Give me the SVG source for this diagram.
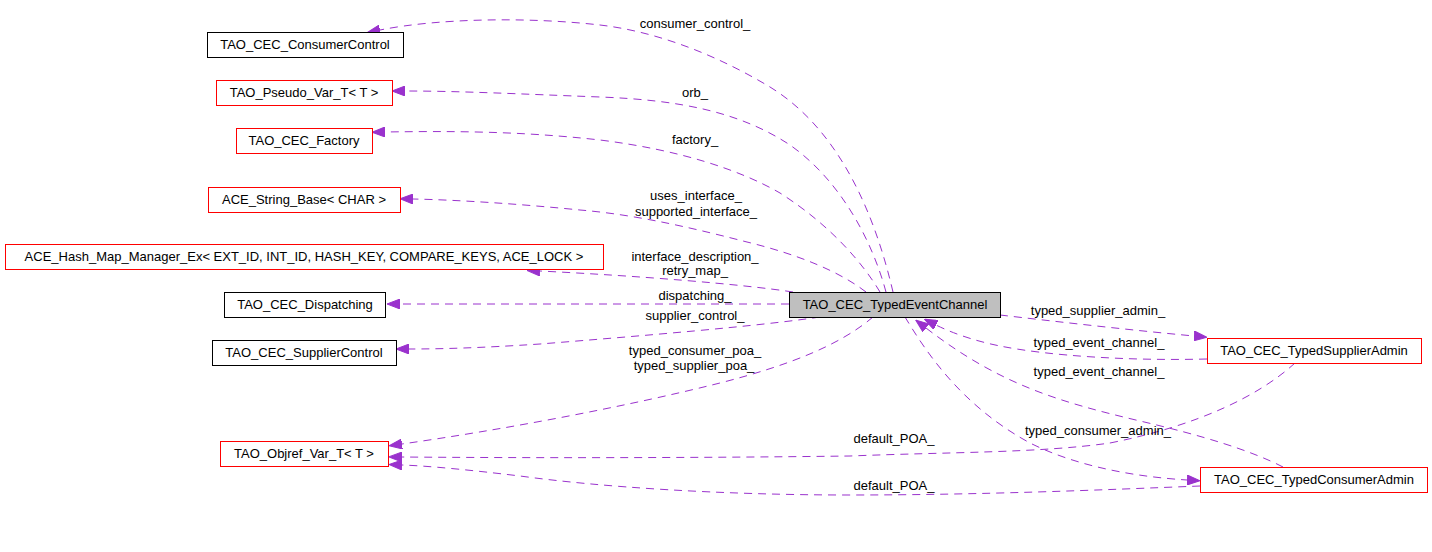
<svg xmlns="http://www.w3.org/2000/svg" width="1432" height="552" viewBox="0 0 1432 552">
<style>
.nb{fill:#ffffff;stroke:#000000;stroke-width:1}
.nr{fill:#ffffff;stroke:#ff0000;stroke-width:1}
.nm{fill:#bfbfbf;stroke:#000000;stroke-width:1}
text{font-family:"Liberation Sans",Arial,sans-serif;font-size:13px;fill:#000000;text-anchor:middle}
.e{fill:none;stroke:#9a32cd;stroke-width:1;stroke-dasharray:8,6}
</style>
<defs>
<marker id="ah" markerUnits="userSpaceOnUse" markerWidth="13" markerHeight="10" viewBox="0 0 13 10" refX="0" refY="5" orient="auto">
<path d="M0,0 L13,5 L0,10 z" fill="#9a32cd" stroke="#9a32cd" stroke-width="1"/>
</marker>
</defs>
<rect x="0" y="0" width="1432" height="552" fill="#ffffff"/>
<g id="connectors">
<path class="e" marker-end="url(#ah)" d="M893,292 C875,215 840,130 770,87 C720,57 660,32 600,25 C530,17 440,18 380,30"/>
<path class="e" marker-end="url(#ah)" d="M886,292 C872,240 840,180 790,145 C740,112 680,100 600,97 C520,94 460,91 405,91"/>
<path class="e" marker-end="url(#ah)" d="M880,292 C862,262 830,225 780,193 C740,170 680,150 600,140 C520,131 450,131 385,132"/>
<path class="e" marker-end="url(#ah)" d="M866,292 C840,272 800,255 747,242 C700,230 640,215 580,210 C520,204 460,200 413,199"/>
<path class="e" marker-end="url(#ah)" d="M793,292 C740,284 640,276 540,271"/>
<path class="e" marker-end="url(#ah)" d="M789,304 L400,304"/>
<path class="e" marker-end="url(#ah)" d="M820,317 C760,326 640,336 540,344 C480,348 440,349 409,349"/>
<path class="e" marker-end="url(#ah)" d="M873,317 C840,345 790,365 720,383 C620,408 500,430 402,444"/>
<path class="e" marker-end="url(#ah)" d="M1295,363 C1260,395 1200,425 1110,443 C1040,453 950,452 850,456 C700,458 520,458 402,457"/>
<path class="e" marker-end="url(#ah)" d="M1200,486 C1100,490 980,495 850,495 C720,495 600,487 520,476 C470,470 430,466 402,465"/>
<path class="e" marker-end="url(#ah)" d="M1000,315 C1060,322 1130,330 1194,336"/>
<path class="e" marker-end="url(#ah)" d="M1207,359 C1130,361 1050,356 1000,346 C970,340 948,331 936,325"/>
<path class="e" marker-end="url(#ah)" d="M1283,467 C1250,450 1200,435 1140,421 C1060,402 1000,385 926,328"/>
<path class="e" marker-end="url(#ah)" d="M905,317 C925,350 960,405 1030,443 C1080,468 1140,477 1187,480"/>
<text x="695" y="28">consumer_control_</text>
<text x="695" y="97">orb_</text>
<text x="695" y="144">factory_</text>
<text x="696" y="200">uses_interface_</text>
<text x="696" y="216">supported_interface_</text>
<text x="695" y="261">interface_description_</text>
<text x="695" y="275">retry_map_</text>
<text x="695" y="300">dispatching_</text>
<text x="695" y="320">supplier_control_</text>
<text x="695" y="355">typed_consumer_poa_</text>
<text x="694" y="370">typed_supplier_poa_</text>
<text x="1098" y="315">typed_supplier_admin_</text>
<text x="1099" y="347">typed_event_channel_</text>
<text x="1099" y="376">typed_event_channel_</text>
<text x="1098" y="435">typed_consumer_admin_</text>
<text x="894" y="443">default_POA_</text>
<text x="894" y="490">default_POA_</text>
</g>
<g id="n_consumercontrol"><rect class="nb" x="207.5" y="32.5" width="196" height="25"/><text x="305" y="49">TAO_CEC_ConsumerControl</text></g>
<g id="n_pseudovar"><rect class="nr" x="216.5" y="80.5" width="176" height="25"/><text x="304" y="97">TAO_Pseudo_Var_T&lt; T &gt;</text></g>
<g id="n_factory"><rect class="nr" x="236.5" y="128.5" width="136" height="25"/><text x="304" y="145">TAO_CEC_Factory</text></g>
<g id="n_stringbase"><rect class="nr" x="208.5" y="187.5" width="192" height="25"/><text x="304" y="204">ACE_String_Base&lt; CHAR &gt;</text></g>
<g id="n_hashmap"><rect class="nr" x="5.5" y="244.5" width="598" height="25"/><text x="304" y="261">ACE_Hash_Map_Manager_Ex&lt; EXT_ID, INT_ID, HASH_KEY, COMPARE_KEYS, ACE_LOCK &gt;</text></g>
<g id="n_dispatching"><rect class="nb" x="224.5" y="292.5" width="161" height="25"/><text x="305" y="309">TAO_CEC_Dispatching</text></g>
<g id="n_suppliercontrol"><rect class="nb" x="212.5" y="340.5" width="184" height="25"/><text x="304" y="357">TAO_CEC_SupplierControl</text></g>
<g id="n_objrefvar"><rect class="nr" x="220.5" y="441.5" width="168" height="25"/><text x="304" y="458">TAO_Objref_Var_T&lt; T &gt;</text></g>
<g id="n_typedeventchannel"><rect class="nm" x="789.5" y="292.5" width="211" height="25"/><text x="895" y="309">TAO_CEC_TypedEventChannel</text></g>
<g id="n_typedsupplieradmin"><rect class="nr" x="1207.5" y="338.5" width="214" height="25"/><text x="1314" y="355">TAO_CEC_TypedSupplierAdmin</text></g>
<g id="n_typedconsumeradmin"><rect class="nr" x="1200.5" y="467.5" width="227" height="25"/><text x="1314" y="484">TAO_CEC_TypedConsumerAdmin</text></g>
</svg>
